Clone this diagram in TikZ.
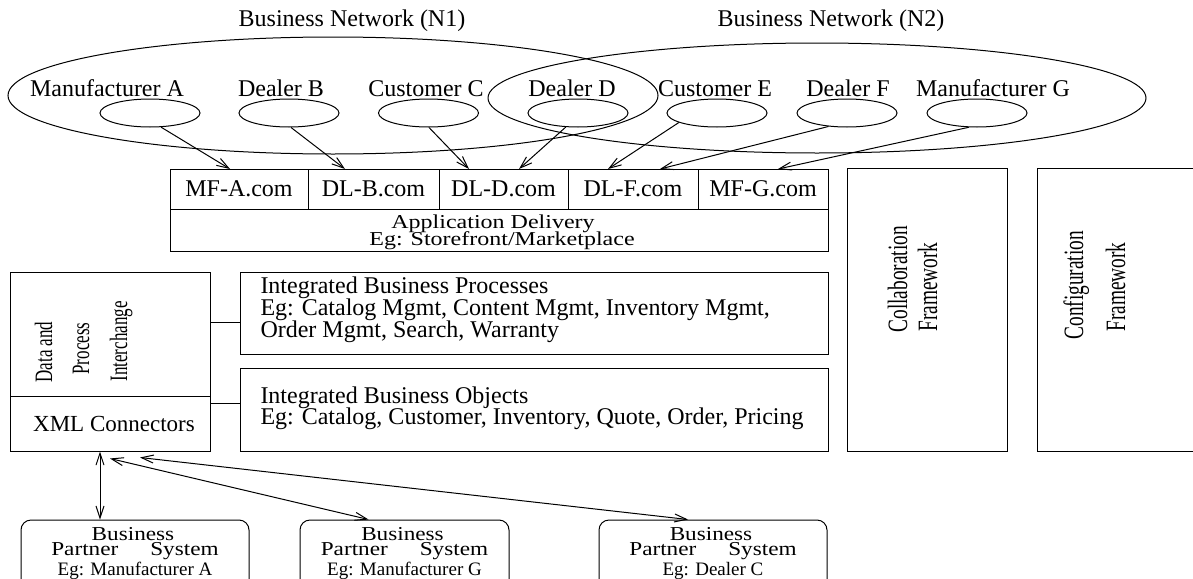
\documentclass[tikz,border=0pt]{standalone}
\usepackage{fontspec}
\setmainfont{Liberation Serif}
\usetikzlibrary{shapes.geometric,arrows.meta}
\begin{document}
\begin{tikzpicture}[x=0.5pt,y=-0.5pt,line width=0.5pt,
  lbl/.style={font=\fontsize{12}{14}\selectfont,inner sep=0,anchor=base},
  lblw/.style={font=\fontsize{12}{14}\selectfont,inner sep=0,anchor=base west},
  big/.style={draw,ellipse,inner sep=0},
  small/.style={draw,ellipse,inner sep=0,minimum width=50pt,minimum height=14pt},
  box/.style={draw,rectangle,inner sep=0,font=\fontsize{12}{14}\selectfont},
  rbox/.style={draw,rectangle,rounded corners=5pt,inner sep=0},
  rottxt/.style={rotate=90,anchor=base west,inner sep=0},
  arr/.style={-{Straight Barb[length=6pt,width=4pt]}},
  dbl/.style={{Straight Barb[length=6pt,width=4pt]}-{Straight Barb[length=6pt,width=4pt]}}]
\useasboundingbox (0,0) rectangle (1193,578);

% network titles
\node[lbl] (ln1) at (352,26) {Business Network (N1)};
\node[lbl] (ln2) at (831,26) {Business Network (N2)};

% big ellipses
\node[big,minimum width=325pt,minimum height=58.5pt] (n1) at (333,95.5) {};
\node[big,minimum width=329pt,minimum height=55pt] (n2) at (817,98) {};

% participant labels
\node[lbl] (la) at (107,96) {Manufacturer A};
\node[lbl] (lb) at (281,96) {Dealer B};
\node[lbl] (lc) at (426,96) {Customer C};
\node[lbl] (ld) at (572,96) {Dealer D};
\node[lbl] (le) at (715,96) {Customer E};
\node[lbl] (lf) at (848,96) {Dealer F};
\node[lbl] (lg) at (993,96) {Manufacturer G};

% small ellipses
\node[small] (ea) at (150,113) {};
\node[small] (eb) at (289,113) {};
\node[small] (ec) at (428.5,113) {};
\node[small] (ed) at (578,113) {};
\node[small] (ee) at (717,113) {};
\node[small] (ef) at (847,113) {};
\node[small] (eg) at (977,113) {};

% storefront boxes
\node[box,minimum width=69pt,minimum height=20pt] (mfa) at (239,189) {MF-A.com};
\node[box,minimum width=65.5pt,minimum height=20pt] (dlb) at (373.5,189) {DL-B.com};
\node[box,minimum width=64.5pt,minimum height=20pt] (dld) at (503.5,189) {DL-D.com};
\node[box,minimum width=65pt,minimum height=20pt] (dlf) at (633,189) {DL-F.com};
\node[box,minimum width=65pt,minimum height=20pt] (mfg) at (763,189) {MF-G.com};
\node[box,minimum width=329pt,minimum height=21pt] (app) at (499,230) {};
\node[lbl] (app1) at (493,228) {\scalebox{1}[0.82]{Application Delivery}};
\node[lbl] (app2) at (502,245.5) {\scalebox{1}[0.82]{Eg: Storefront/Marketplace}};

% arrow targets
\coordinate (tA) at (230,169);
\coordinate (tB) at (345,169);
\coordinate (tC) at (469,169);
\coordinate (tD) at (519,169);
\coordinate (tE) at (608,169);
\coordinate (tF) at (660,169);
\coordinate (tG) at (778,169);
\draw[arr] (ea.308) -- (tA);
\draw[arr] (eb.278) -- (tB);
\draw[arr] (ec.272) -- (tC);
\draw[arr] (ed.229) -- (tD);
\draw[arr] (ee.194) -- (tE);
\draw[arr] (ef.216) -- (tF);
\draw[arr] (eg.240) -- (tG);

% frameworks
\node[box,minimum width=80pt,minimum height=141.5pt] (collab) at (927,309.5) {};
\node[box,minimum width=101.5pt,minimum height=141.5pt] (config) at (1138.5,309.5) {};
\node[rottxt,font=\fontsize{14}{16}\selectfont] (col1) at (907,333) {\scalebox{0.69}[1]{Collaboration}};
\node[rottxt,font=\fontsize{14}{16}\selectfont] (col2) at (937,332) {\scalebox{0.69}[1]{Framework}};
\node[rottxt,font=\fontsize{14}{16}\selectfont] (cfg1) at (1083,340) {\scalebox{0.69}[1]{Configuration}};
\node[rottxt,font=\fontsize{14}{16}\selectfont] (cfg2) at (1125,332) {\scalebox{0.69}[1]{Framework}};

% data and process interchange
\node[box,minimum width=100pt,minimum height=62pt] (dpi) at (110,334) {};
\node[box,minimum width=100pt,minimum height=27.5pt] (xmlc) at (110,423.5) {};
\node[inner sep=0,font=\fontsize{11.5}{13}\selectfont] (xmlt) at (114,424) {XML Connectors};
\node[rottxt,font=\fontsize{12.5}{14}\selectfont] (dp1) at (52,383) {\scalebox{0.68}[1]{Data and}};
\node[rottxt,font=\fontsize{12.5}{14}\selectfont] (dp2) at (89,375) {\scalebox{0.68}[1]{Process}};
\node[rottxt,font=\fontsize{12.5}{14}\selectfont] (dp3) at (127,382) {\scalebox{0.68}[1]{Interchange}};

% integrated business boxes
\node[box,minimum width=294pt,minimum height=41pt] (ibp) at (534,313) {};
\node[lblw] (ibp1) at (260,293) {Integrated Business Processes};
\node[lblw] (ibp2) at (260,315) {Eg: Catalog Mgmt, Content Mgmt, Inventory Mgmt,};
\node[lblw] (ibp3) at (260,337) {Order Mgmt, Search, Warranty};
\node[box,minimum width=294pt,minimum height=41.5pt] (ibo) at (534,409.5) {};
\node[lblw] (ibo1) at (260,403) {Integrated Business Objects};
\node[lblw] (ibo2) at (260,424) {Eg: Catalog, Customer, Inventory, Quote, Order, Pricing};

\draw (dpi.east |- 0,322) -- (ibp.west |- 0,322);
\draw (dpi.east |- 0,403) -- (ibo.west |- 0,403);

% business partner systems
\node[rbox,minimum width=114pt,minimum height=50pt] (bp1) at (135,570) {};
\node[rbox,minimum width=104.5pt,minimum height=50pt] (bp2) at (404.5,570) {};
\node[rbox,minimum width=114pt,minimum height=50pt] (bp3) at (713,570) {};
\foreach \n/\cx/\eg in {1/135/Manufacturer A,2/404.5/Manufacturer G,3/713/Dealer C}{
  \node[lbl,font=\fontsize{11.6}{13}\selectfont] (bpa\n) at (\cx-2,540) {\scalebox{1}[0.85]{Business}};
  \node[lbl,font=\fontsize{11.6}{13}\selectfont] (bpb\n) at (\cx,555) {\scalebox{1}[0.85]{Partner\hspace{16pt}System}};
  \node[lbl,font=\fontsize{9.5}{11}\selectfont] (bpc\n) at (\cx,575) {Eg: \eg};
}

\coordinate (s1) at ([xshift=-5pt]xmlc.south);
\coordinate (s2) at ([yshift=-3.5pt]xmlc.south);
\coordinate (s3) at ([xshift=15pt,yshift=-3pt]xmlc.south);
\draw[dbl] (s1) -- (bp1.north -| s1);
\draw[dbl] (s2) -- ([xshift=-18pt]bp2.north);
\draw[dbl] (s3) -- ([xshift=-12.5pt]bp3.north);
\end{tikzpicture}
\end{document}
